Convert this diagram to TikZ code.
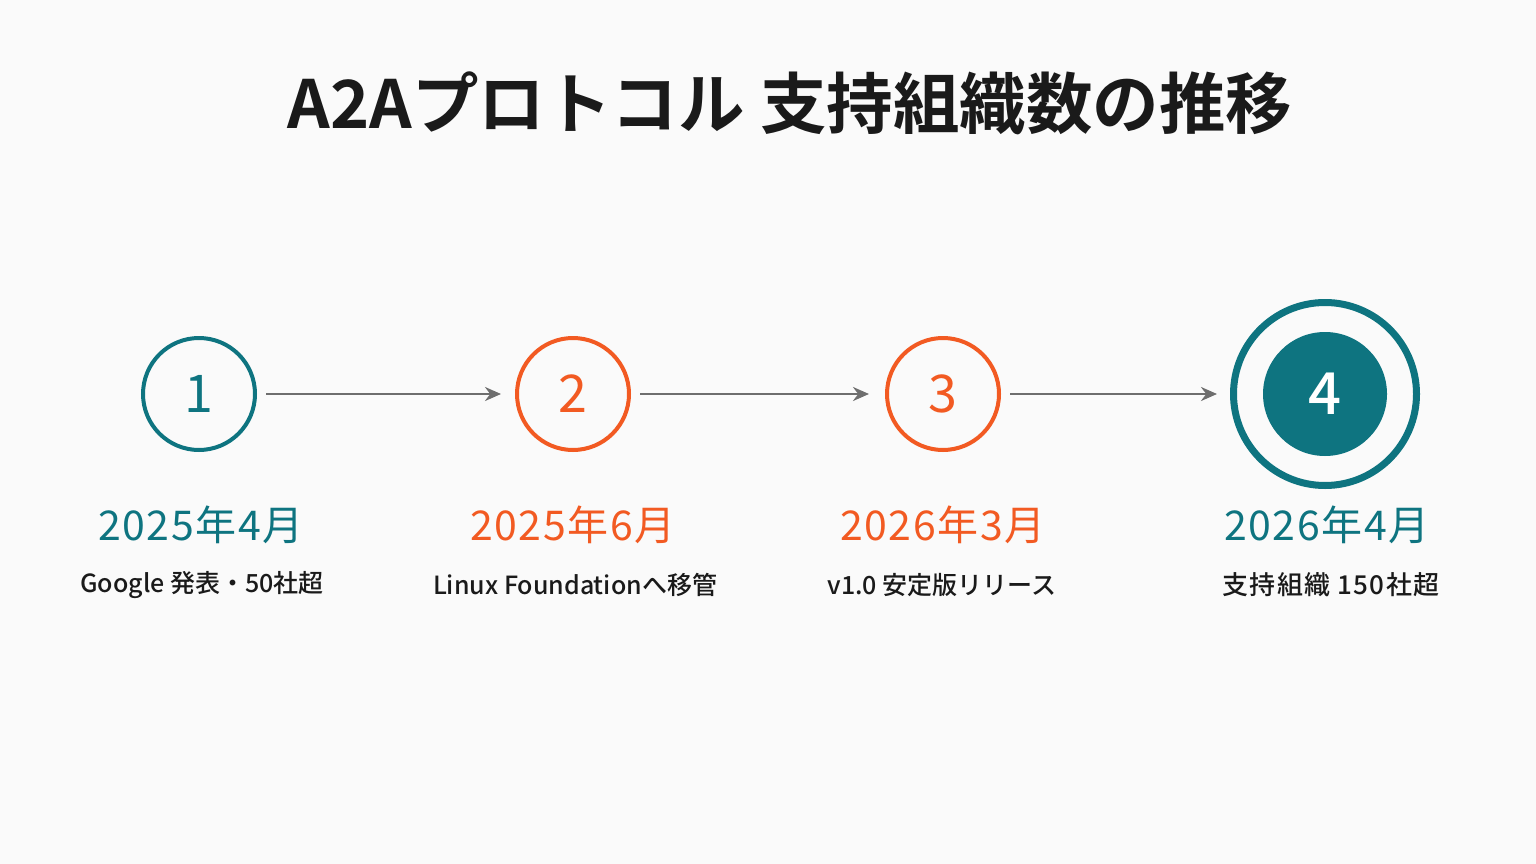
\documentclass[tikz,border=0pt]{standalone}
\usepackage{fontspec}
\setmainfont{Noto Sans CJK JP}
\newfontfamily\jpbold{Noto Sans CJK JP Bold}
\newfontfamily\jpmed{Noto Sans CJK JP Medium}
\newfontfamily\jpmedsp[LetterSpace=4]{Noto Sans CJK JP}
\newfontfamily\jpsubsp[LetterSpace=5]{Noto Sans CJK JP Medium}
\usetikzlibrary{arrows.meta}
\definecolor{teal1}{HTML}{0E7480}
\definecolor{orng}{HTML}{F25A22}
\definecolor{bgc}{HTML}{FAFAFA}
\definecolor{arr}{HTML}{6E6E6E}
\definecolor{ink}{HTML}{1A1A1A}
\tikzset{
  ring/.style={circle, draw=#1, line width=4pt, minimum size=112pt, inner sep=0pt, text=#1, font=\fontsize{52}{56}\selectfont},
  datelbl/.style={text=#1, font=\jpmedsp\fontsize{41}{44}\selectfont, inner sep=0pt},
  sublbl/.style={text=ink, font=\jpmed\fontsize{25}{28}\selectfont, inner sep=0pt},
  conn/.style={draw=arr, line width=2.5pt, -{Stealth[length=16pt,width=14pt]}},
}
\begin{document}
\begin{tikzpicture}[x=1pt,y=-1pt]
\fill[bgc] (0,0) rectangle (1536,864);
\useasboundingbox (0,0) rectangle (1536,864);
\node[text=ink, font=\jpbold\fontsize{66.5}{72}\selectfont, inner sep=0pt] (title) at (790,103) {A2Aプロトコル 支持組織数の推移};
\node[ring=teal1] (c1) at (199,394) {1};
\node[ring=orng] (c2) at (573,394) {2};
\node[ring=orng] (c3) at (943,394) {3};
\node[circle, draw=teal1, line width=7pt, minimum size=183pt, inner sep=0pt] (c4) at (1325,394) {};
\node[circle, fill=teal1, minimum size=124pt, inner sep=0pt, text=white, font=\jpmed\fontsize{58}{62}\selectfont] (c4in) at (1325,394) {4};
\draw[conn, shorten <=9pt, shorten >=14pt] (c1.east) -- (c2.west);
\draw[conn, shorten <=9pt, shorten >=16pt] (c2.east) -- (c3.west);
\draw[conn, shorten <=9pt, shorten >=13pt] (c3.east) -- (c4.west);
\node[datelbl=teal1] (d1) at (201,525) {2025年4月};
\node[datelbl=orng] (d2) at (573,525) {2025年6月};
\node[datelbl=orng] (d3) at (943,525) {2026年3月};
\node[datelbl=teal1] (d4) at (1327,525) {2026年4月};
\node[sublbl] (s1) at (202,585) {Google 発表・50社超};
\node[sublbl] (s2) at (575,585) {Linux Foundationへ移管};
\node[sublbl] (s3) at (942,585) {v1.0 安定版リリース};
\node[sublbl, font=\jpsubsp\fontsize{26}{28}\selectfont] (s4) at (1331,585) {支持組織 150社超};
\end{tikzpicture}
\end{document}
